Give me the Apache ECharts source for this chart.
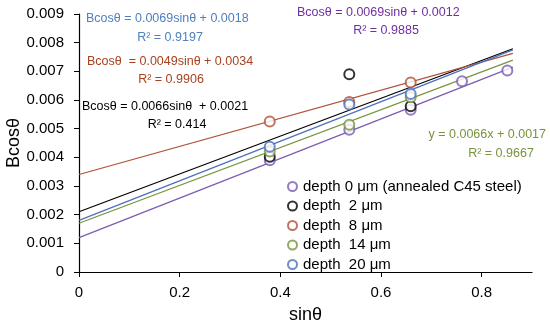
<!DOCTYPE html>
<html><head><meta charset="utf-8">
<script src="https://cdn.jsdelivr.net/npm/echarts@6/dist/echarts.min.js"></script>
<style>html,body{margin:0;padding:0;background:#fff}#c{width:550px;height:329px}</style>
</head><body><div id="c"></div>
<script>
// ---- data ----
const seriesNames = ['depth 0 μm (annealed C45 steel)','depth  2 μm','depth  8 μm','depth  14 μm','depth  20 μm'];
const depth0 = [[0.379,0.00390],[0.537,0.00496],[0.659,0.00566],[0.761,0.00665],[0.851,0.00703]];
const depth2 = [[0.379,0.00402],[0.537,0.00690],[0.659,0.00578]];
const depth8 = [[0.379,0.00525],[0.537,0.00593],[0.659,0.00661]];
const depth14 = [[0.379,0.00420],[0.537,0.00514],[0.659,0.00610]];
const depth20 = [[0.379,0.00437],[0.537,0.00584],[0.659,0.00621]];
// trendline equations printed on the chart
const slopes = [0.0069,0.0066,0.0049,0.0066,0.0069];
const intercepts = [0.0012,0.0021,0.0034,0.0017,0.0018];
const trendRange = [0,0.862];
const xTicks = [0,0.2,0.4,0.6,0.8];

const colors = ['#7B5BB3','#000000','#B0503A','#77933C','#4C6FBF'];
const allData = [depth0,depth2,depth8,depth14,depth20];
const FONT = 'Liberation Sans';

const series = [];
allData.forEach((d,i)=>{
  series.push({type:'line',name:'t'+i,data:trendRange.map(x=>[x,slopes[i]*x+intercepts[i]]),
    showSymbol:false,symbol:'none',lineStyle:{color:colors[i],width:1.2},silent:true,z:2});
});
allData.forEach((d,i)=>{
  series.push({type:'scatter',name:seriesNames[i],data:d,symbol:'emptyCircle',symbolSize:10,
    itemStyle:{color:colors[i],borderWidth:1},z:3});
});

function txt(x,y,s,color,align){return {type:'text',x:x,y:y,style:{text:s,fill:color,font:'12.5px "'+FONT+'"',textAlign:align||'left',textVerticalAlign:'middle'}};}

const chart = echarts.init(document.getElementById('c'),null,{renderer:'canvas'});
chart.setOption({
  animation:false,
  backgroundColor:'#fff',
  grid:{left:79,right:18,top:14,bottom:57,outerBoundsMode:'none',containLabel:false},
  xAxis:{type:'value',min:0,max:0.9,name:'sinθ',nameLocation:'middle',nameGap:34,nameMoveOverlap:false,
    nameTextStyle:{fontFamily:FONT,fontSize:18,color:'#000'},
    axisLine:{lineStyle:{color:'#000',width:1.2}},
    axisTick:{show:true,customValues:xTicks,length:5,lineStyle:{color:'#000'}},
    axisLabel:{customValues:xTicks,fontFamily:FONT,fontSize:15,color:'#000',margin:13,formatter:v=>String(+v.toFixed(1))},
    splitLine:{show:false}},
  yAxis:{type:'value',min:0,max:0.009,interval:0.001,name:'Bcosθ',nameLocation:'middle',nameGap:56,nameMoveOverlap:false,
    nameTextStyle:{fontFamily:FONT,fontSize:18,color:'#000'},
    axisLine:{show:true,lineStyle:{color:'#000',width:1.2}},
    axisTick:{show:true,length:5,lineStyle:{color:'#000'}},
    axisLabel:{fontFamily:FONT,fontSize:15,color:'#000',margin:15,formatter:v=>v===0?'0':v.toFixed(3)},
    splitLine:{show:false}},
  legend:{data:seriesNames.map(n=>({name:n,icon:'emptyCircle',itemStyle:{borderWidth:1}})),
    orient:'vertical',left:282,top:174,itemWidth:9,itemHeight:9,itemGap:4.5,
    textStyle:{fontFamily:FONT,fontSize:15,color:'#000',padding:[0,0,0,1]}},
  graphic:[
    txt(86,19,'Bcosθ = 0.0069sinθ + 0.0018','#4F81BD'),
    txt(170,38,'R² = 0.9197','#4F81BD','center'),
    txt(297,13,'Bcosθ = 0.0069sinθ + 0.0012','#7030A0'),
    txt(386,31,'R² = 0.9885','#7030A0','center'),
    txt(87,62,'Bcosθ  = 0.0049sinθ + 0.0034','#A9411E'),
    txt(171,80,'R² = 0.9906','#A9411E','center'),
    txt(82,107,'Bcosθ = 0.0066sinθ  + 0.0021','#000000'),
    txt(177,125,'R² = 0.414','#000000','center'),
    txt(546,135,'y = 0.0066x + 0.0017','#77933C','right'),
    txt(501,154,'R² = 0.9667','#77933C','center')
  ],
  series:series
});
</script></body></html>
